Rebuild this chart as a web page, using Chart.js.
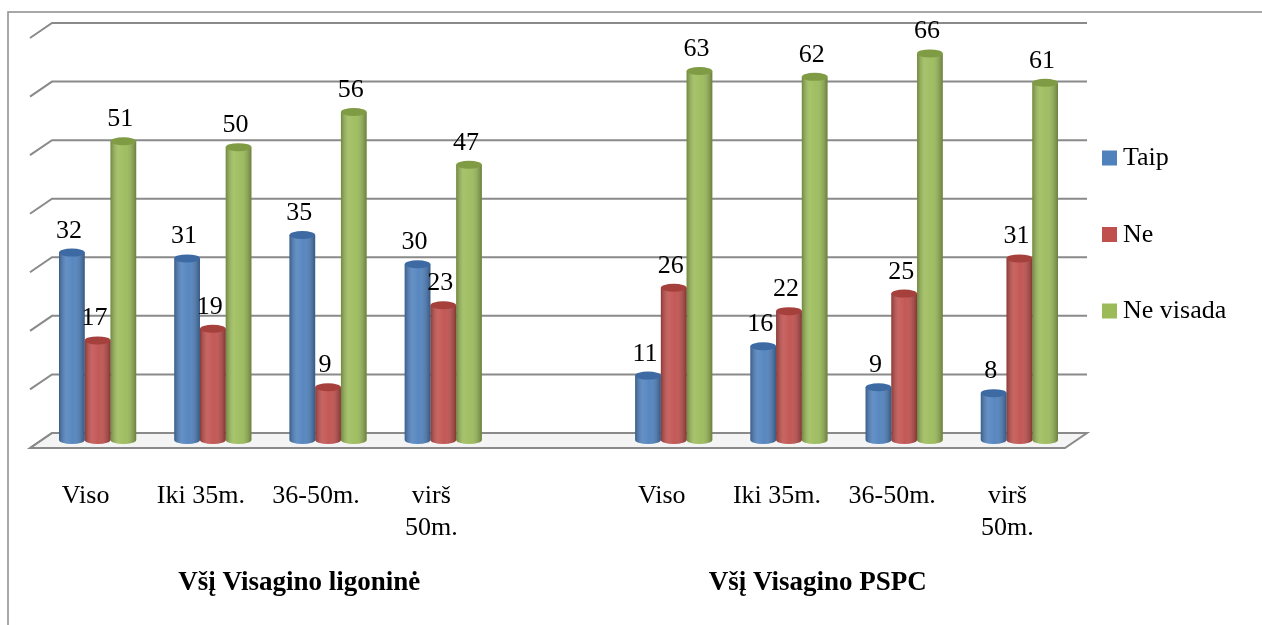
<!DOCTYPE html>
<html lang="lt">
  <head>
    <meta charset="UTF-8" />
    <title>Taip / Ne / Ne visada</title>
    <script src="https://cdn.jsdelivr.net/npm/chart.js"></script>
    <style>
      html, body { margin: 0; padding: 0; background: #fff; }
      #wrap { width: 1262px; height: 625px; }
    </style>
  </head>
  <body>
    <div id="wrap"><canvas id="chart"></canvas></div>
    <script>
      // categories (middle empty slot separates the two institutions)
      const categories = ["Viso", "Iki 35m.", "36-50m.", ["virš", "50m."], "", "Viso", "Iki 35m.", "36-50m.", ["virš", "50m."]];
      const groups = ["Všį Visagino ligoninė", "Všį Visagino PSPC"];
      const seriesNames = ["Taip", "Ne", "Ne visada"];
      const taip = [32, 31, 35, 30, null, 11, 16, 9, 8];
      const ne = [17, 19, 9, 23, null, 26, 22, 25, 31];
      const neVisada = [51, 50, 56, 47, null, 63, 62, 66, 61];
      const yTicks = [0, 10, 20, 30, 40, 50, 60, 70];

      const colors = ["#4F81BD", "#C0504D", "#9BBB59"];
      const capColors = ["#3D6AA3", "#A5403D", "#7F9C45"];
      const serif = "'Liberation Serif', 'Times New Roman', serif";
      const gridColor = "#8a8a8a";
      const depthX = 22, depthY = -15;

      const cylinders = {
        id: "cylinders",
        beforeDatasetsDraw(chart) {
          const { ctx, chartArea: a, scales } = chart;
          ctx.save();
          // outer frame
          ctx.strokeStyle = "#8c8c8c";
          ctx.lineWidth = 1.5;
          ctx.strokeRect(8, 12, 1400, 800);
          // floor
          const y0 = scales.y.getPixelForValue(0);
          const fy = y0 + 8, fl = a.left - 10, fr = a.right - 12;
          ctx.beginPath();
          ctx.moveTo(fl, fy);
          ctx.lineTo(fl + depthX, fy + depthY);
          ctx.lineTo(fr + depthX, fy + depthY);
          ctx.lineTo(fr, fy);
          ctx.closePath();
          ctx.fillStyle = "#f4f4f4";
          ctx.fill();
          ctx.strokeStyle = gridColor;
          ctx.lineWidth = 2;
          ctx.stroke();
          // back wall grid lines with left stubs
          yTicks.forEach(v => {
            const y = scales.y.getPixelForValue(v) + 8 + depthY;
            ctx.beginPath();
            ctx.moveTo(fl, y - depthY);
            ctx.lineTo(fl + depthX, y);
            ctx.lineTo(fr + depthX, y);
            ctx.stroke();
          });
          ctx.restore();
        },
        afterDatasetsDraw(chart) {
          const { ctx } = chart;
          ctx.save();
          chart.data.datasets.forEach((ds, di) => {
            chart.getDatasetMeta(di).data.forEach((bar, i) => {
              const v = ds.data[i];
              if (v === null) return;
              const { x, y, width, base } = bar.getProps(["x", "y", "width", "base"], true);
              const l = x - width / 2, r = x + width / 2, ry = 4;
              // rounded bottom
              ctx.fillStyle = colors[di];
              ctx.beginPath();
              ctx.ellipse(x, base, width / 2, ry, 0, 0, Math.PI);
              ctx.fill();
              // side shading
              const g = ctx.createLinearGradient(l, 0, r, 0);
              g.addColorStop(0, "rgba(0,0,0,0.28)");
              g.addColorStop(0.3, "rgba(255,255,255,0.12)");
              g.addColorStop(0.55, "rgba(255,255,255,0.05)");
              g.addColorStop(1, "rgba(0,0,0,0.32)");
              ctx.fillStyle = g;
              ctx.beginPath();
              ctx.moveTo(l, y);
              ctx.lineTo(l, base);
              ctx.ellipse(x, base, width / 2, ry, 0, Math.PI, 0, true);
              ctx.lineTo(r, y);
              ctx.closePath();
              ctx.fill();
              // top cap
              ctx.fillStyle = capColors[di];
              ctx.beginPath();
              ctx.ellipse(x, y, width / 2, ry, 0, 0, Math.PI * 2);
              ctx.fill();
              // value label
              ctx.fillStyle = "#000";
              ctx.font = "26px " + serif;
              ctx.textAlign = "center";
              ctx.textBaseline = "alphabetic";
              ctx.fillText(String(v), x - 3, y - 15);
            });
          });
          ctx.restore();
        },
        afterDraw(chart) {
          const { ctx, chartArea: a } = chart;
          ctx.save();
          // legend
          const mid = (a.top + a.bottom) / 2;
          ctx.font = "26px " + serif;
          ctx.textBaseline = "middle";
          ctx.textAlign = "left";
          seriesNames.forEach((name, i) => {
            const cy = mid + (i - 1) * 76.5 - 1;
            ctx.fillStyle = colors[i];
            ctx.fillRect(a.right + 25, cy - 7, 15, 15);
            ctx.fillStyle = "#000";
            ctx.fillText(name, a.right + 46, cy + 1);
          });
          // institution labels
          ctx.font = "bold 27px " + serif;
          ctx.textAlign = "center";
          const w = a.right - a.left;
          groups.forEach((gname, i) => {
            ctx.fillText(gname, a.left + w * (i * 2 + 1) / 4, 583);
          });
          ctx.restore();
        }
      };

      new Chart(document.getElementById("chart"), {
        type: "bar",
        data: {
          labels: categories,
          datasets: [
            { label: seriesNames[0], data: taip, backgroundColor: colors[0] },
            { label: seriesNames[1], data: ne, backgroundColor: colors[1] },
            { label: seriesNames[2], data: neVisada, backgroundColor: colors[2] },
          ],
        },
        options: {
          responsive: true,
          maintainAspectRatio: false,
          animation: false,
          layout: { padding: { top: 30, left: 40, right: 185, bottom: 0 } },
          datasets: { bar: { categoryPercentage: 0.67, barPercentage: 1 } },
          plugins: { legend: { display: false }, tooltip: { enabled: false } },
          scales: {
            x: {
              grid: { display: false },
              border: { display: false },
              ticks: {
                font: { family: serif, size: 26 },
                color: "#000",
                padding: 33,
                labelOffset: -12,
                maxRotation: 0,
                autoSkip: false,
              },
              afterFit(scale) { scale.height = 185; },
            },
            y: { display: false, min: 0, max: 70 },
          },
        },
        plugins: [cylinders],
      });
    </script>
  </body>
</html>
